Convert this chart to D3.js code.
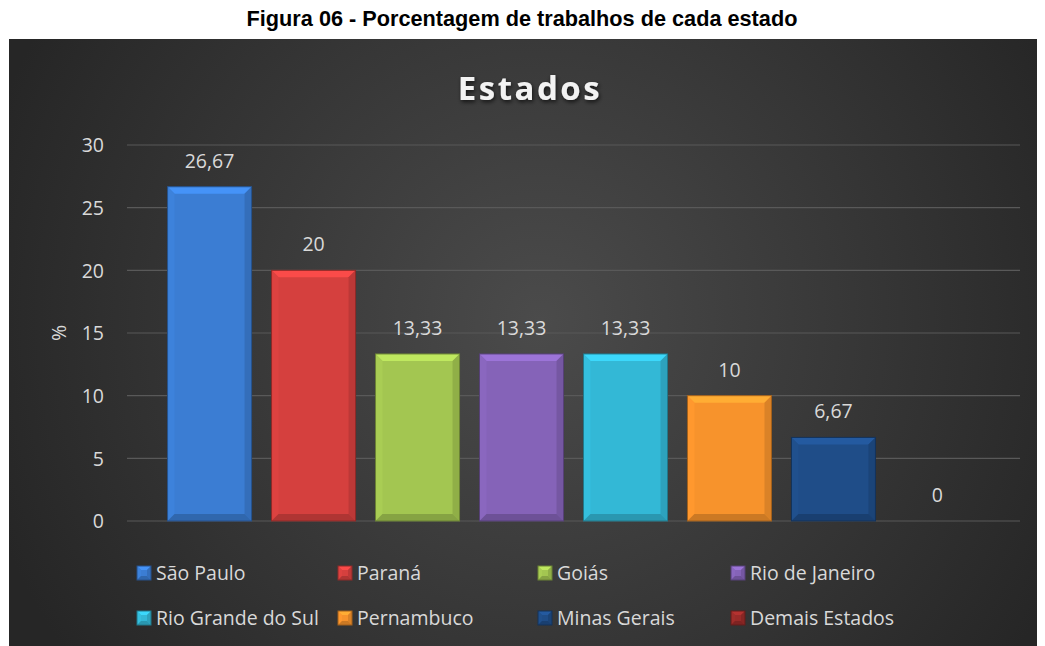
<!DOCTYPE html>
<html>
<head>
<meta charset="utf-8">
<script src="https://cdn.jsdelivr.net/npm/d3@7"></script>
<style>
  body { margin: 0; background: #fff; }
  svg { display: block; }
</style>
</head>
<body>
<div id="chart"></div>
<script>
// data
const categories = ["São Paulo", "Paraná", "Goiás", "Rio de Janeiro",
  "Rio Grande do Sul", "Pernambuco", "Minas Gerais", "Demais Estados"];
const values = [26.67, 20, 13.33, 13.33, 13.33, 10, 6.67, 0];
const colors = ["#3b7dd3", "#d5403e", "#a3c651", "#8563b8",
  "#33b8d6", "#f7932c", "#1f4d88", "#9a2b29"];
const yTicks = [0, 5, 10, 15, 20, 25, 30];

const W = 1045, H = 646;
const font = "'Open Sans', 'Noto Sans', sans-serif";
const txt = "#d9d9d9";
const fs = "19.5px";

const svg = d3.select("#chart").append("svg")
  .attr("width", W).attr("height", H);

const defs = svg.append("defs");

// background gradient of the chart panel
const bg = defs.append("radialGradient").attr("id", "bg")
  .attr("gradientUnits", "userSpaceOnUse")
  .attr("cx", 540).attr("cy", 320).attr("r", 580);
bg.append("stop").attr("offset", "0%").attr("stop-color", "#4b4b4b");
bg.append("stop").attr("offset", "100%").attr("stop-color", "#262626");

// text shadow for the title
const shadow = defs.append("filter").attr("id", "shadow");
shadow.append("feDropShadow").attr("dx", 1).attr("dy", 2)
  .attr("stdDeviation", 2).attr("flood-color", "#000").attr("flood-opacity", 0.7);

// figure caption
svg.append("text")
  .attr("x", 522).attr("y", 26)
  .attr("text-anchor", "middle")
  .style("font-family", "'Liberation Sans', Arial, sans-serif")
  .style("font-weight", "bold")
  .style("font-size", "21.7px")
  .style("fill", "#000")
  .text("Figura 06 - Porcentagem de trabalhos de cada estado");

// panel
svg.append("rect")
  .attr("x", 9).attr("y", 39).attr("width", 1028).attr("height", H - 39)
  .attr("fill", "url(#bg)");

svg.append("text")
  .attr("x", 530).attr("y", 100)
  .attr("text-anchor", "middle")
  .style("font-family", font)
  .style("font-weight", "bold")
  .style("font-size", "33px")
  .style("letter-spacing", "2.5px")
  .style("fill", "#f2f2f2")
  .style("filter", "url(#shadow)")
  .text("Estados");

// scales
const x = d3.scaleBand()
  .domain(categories)
  .range([127, 1020])
  .paddingInner(0.192)
  .paddingOuter(0.39);

const y = d3.scaleLinear()
  .domain([0, 30])
  .range([521, 145]);

// gridlines
svg.append("g").selectAll("line")
  .data(yTicks)
  .join("line")
  .attr("x1", 127).attr("x2", 1020)
  .attr("y1", d => y(d)).attr("y2", d => y(d))
  .attr("stroke", "#595959")
  .attr("stroke-width", 1.2);

// y axis labels
const yAxis = svg.append("g")
  .attr("transform", "translate(104,0)")
  .call(d3.axisLeft(y).tickValues(yTicks).tickSize(0).tickPadding(0));
yAxis.select(".domain").remove();
yAxis.selectAll("text")
  .attr("dy", "0.35em")
  .style("font-family", font)
  .style("font-size", fs)
  .style("fill", txt);

svg.append("text")
  .attr("transform", "translate(59,333) rotate(-90)")
  .attr("text-anchor", "middle")
  .attr("dy", "0.35em")
  .style("font-family", font)
  .style("font-size", fs)
  .style("fill", txt)
  .text("%");

// bevelled bar: face plus four edge trapezoids
function bevel(g, x0, y0, w, h, col, b) {
  const c = d3.color(col);
  b = Math.min(b, w / 2, h / 2);
  const x1 = x0 + w, y1 = y0 + h;
  g.append("rect").attr("x", x0).attr("y", y0).attr("width", w).attr("height", h)
    .attr("fill", c.formatHex());
  const faces = [
    {p: [[x0, y0], [x1, y0], [x1 - b, y0 + b], [x0 + b, y0 + b]], f: c.brighter(0.45)},
    {p: [[x0, y0], [x0 + b, y0 + b], [x0 + b, y1 - b], [x0, y1]], f: c.brighter(0.1)},
    {p: [[x1, y0], [x1, y1], [x1 - b, y1 - b], [x1 - b, y0 + b]], f: c.darker(0.35)},
    {p: [[x0, y1], [x0 + b, y1 - b], [x1 - b, y1 - b], [x1, y1]], f: c.darker(0.55)}
  ];
  faces.forEach(fc => {
    g.append("polygon")
      .attr("points", fc.p.map(pt => pt.join(",")).join(" "))
      .attr("fill", fc.f.formatHex());
  });
  g.append("rect").attr("x", x0).attr("y", y0).attr("width", w).attr("height", h)
    .attr("fill", "none").attr("stroke", c.darker(1.2).formatHex()).attr("stroke-width", 1);
}

const bars = svg.append("g");
categories.forEach((cat, i) => {
  const h = y(0) - y(values[i]);
  if (h > 0) {
    bevel(bars.append("g"), x(cat), y(values[i]), x.bandwidth(), h, colors[i], 7);
  }
});

// value labels
svg.append("g").selectAll("text")
  .data(values)
  .join("text")
  .attr("x", (d, i) => x(categories[i]) + x.bandwidth() / 2)
  .attr("y", d => y(d) - 19)
  .attr("text-anchor", "middle")
  .style("font-family", font)
  .style("font-size", fs)
  .style("fill", txt)
  .text(d => d3.format(".2~f")(d).replace(".", ","));

// legend
const legX = [137, 338, 538, 731];
const legY = [573, 618];
const leg = svg.append("g").selectAll("g")
  .data(categories)
  .join("g")
  .attr("transform", (d, i) => `translate(${legX[i % 4]},${legY[Math.floor(i / 4)]})`);
leg.each(function (d, i) {
  bevel(d3.select(this), 0, -7, 14, 14, colors[i], 4);
});
leg.append("text")
  .attr("x", 19)
  .attr("dy", "0.35em")
  .style("font-family", font)
  .style("font-size", fs)
  .style("fill", txt)
  .text(d => d);
</script>
</body>
</html>
